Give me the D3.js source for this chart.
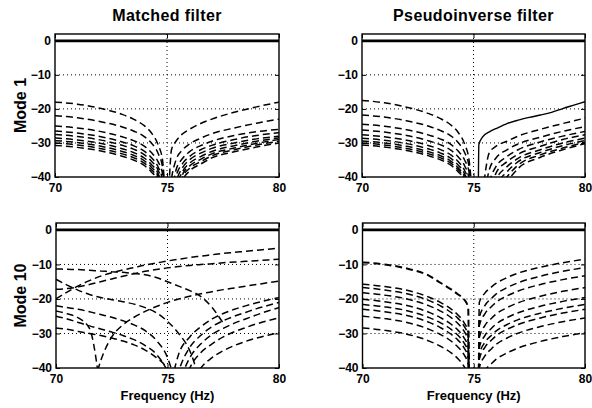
<!DOCTYPE html>
<html><head><meta charset="utf-8">
<script src="https://cdn.jsdelivr.net/npm/d3@7"></script>
<style>
body{margin:0;background:#fff}
text{font-family:"Liberation Sans",Arial,Helvetica,sans-serif;font-weight:bold;fill:#000}
</style>
</head><body>
<svg id="c" width="592" height="408"></svg>
<script>
// ---------------- data ----------------
const columnTitles = ["Matched filter", "Pseudoinverse filter"];
const rowLabels = ["Mode 1", "Mode 10"];
const xLabel = "Frequency (Hz)";
const xTicks = [70, 75, 80];
const yTicks = [0, -10, -20, -30, -40];
const xDomain = [70, 80];
const yDomain = [-40, 2];

// reference (solid) level, dB
const zeroFreq = [70, 80];
const zeroLevel = [0, 0];

// Mode 1 frequency grid (Hz)
const freqMode1 = [70, 71, 72, 73, 73.5, 74, 74.3, 74.6, 74.8, 75, 75.2, 75.4, 75.7, 76, 76.5, 77, 78, 79, 80];

// Matched filter, mode 1 (dB, dashed)
const matchedMode1 = [
  [-18, -18.6, -19.8, -21.6, -23, -25, -27, -30.5, -35, -50, -32, -29.5, -27.3, -26, -24.3, -23, -21, -19.4, -18],
  [-22, -22.6, -23.7, -25.3, -26.5, -28.2, -30, -33, -37, -52, -40.5, -35, -32, -30.3, -28.6, -27.3, -25.6, -24.2, -23],
  [-25, -25.6, -26.6, -28.2, -29.3, -31, -32.8, -35.5, -39, -54, -46, -38, -34.5, -32.6, -30.8, -29.5, -27.8, -26.7, -26],
  [-26.5, -27.1, -28.1, -29.7, -30.8, -32.5, -34.3, -37, -41, -55, -50, -40, -36, -34, -32, -30.7, -29, -27.8, -27],
  [-27.5, -28.1, -29.1, -30.7, -31.8, -33.5, -35.3, -38, -42, -56, -52, -42, -37.2, -35, -33, -31.6, -30, -28.8, -28],
  [-28.5, -29.1, -30.1, -31.7, -32.8, -34.5, -36.3, -39, -43, -57, -53, -44, -38.3, -36, -34, -32.5, -30.8, -29.5, -28.5],
  [-29.3, -29.9, -30.9, -32.5, -33.6, -35.3, -37.1, -39.8, -44, -58, -54, -46, -39.2, -36.8, -34.8, -33.2, -31.5, -30.1, -29],
  [-30, -30.6, -31.6, -33.2, -34.3, -36, -37.8, -40.5, -45, -58, -55, -48, -40, -37.5, -35.5, -33.8, -32, -30.6, -29.5],
  [-30.7, -31.3, -32.3, -33.9, -35, -36.7, -38.5, -41.2, -46, -59, -56, -50, -41, -38.3, -36.2, -34.4, -32.6, -31.2, -30]
];

// Pseudoinverse filter, mode 1 (dB, dashed)
const pinvMode1 = [
  [-17.5, -18.2, -19.5, -21.4, -22.8, -24.8, -26.8, -30.3, -35, -50, null, null, null, null, null, null, null, null, null],
  [-21.8, -22.4, -23.5, -25.1, -26.3, -28, -29.8, -32.8, -36.8, -55, -55, -45, -33, -31, -29.5, -28, -26, -24.3, -22.7],
  [-24.5, -25.1, -26.1, -27.7, -28.8, -30.5, -32.3, -35, -38.5, -56, -56, -50, -38, -34.5, -32, -30.3, -28.3, -26.6, -25.2],
  [-26.2, -26.8, -27.8, -29.4, -30.5, -32.2, -34, -36.7, -40.5, -57, -57, -55, -42, -37, -34, -32, -29.7, -28, -26.6],
  [-27.6, -28.2, -29.2, -30.8, -31.9, -33.6, -35.4, -38.1, -42, -58, -58, -57, -46, -39, -35.5, -33.3, -31, -29, -27.6],
  [-28.6, -29.2, -30.2, -31.8, -32.9, -34.6, -36.4, -39.1, -43, -58, -58, -58, -50, -41, -37, -34.5, -32, -30, -28.6],
  [-29.4, -30, -31, -32.6, -33.7, -35.4, -37.2, -39.9, -44, -59, -59, -59, -53, -43, -38.5, -35.5, -32.8, -30.8, -29.3],
  [-30, -30.6, -31.6, -33.2, -34.3, -36, -37.8, -40.5, -45, -59, -59, -59, -55, -45, -40, -36.5, -33.5, -31.5, -29.8],
  [-30.6, -31.2, -32.2, -33.8, -34.9, -36.6, -38.4, -41.1, -46, -60, -60, -60, -57, -47, -41.5, -37.5, -34.2, -32, -30.2]
];

// Pseudoinverse filter, mode 1 (solid branch)
const pinvSolidFreq = [75.22, 75.24, 75.4, 75.75, 76, 76.5, 77, 77.5, 78, 78.5, 79, 79.5, 80];
const pinvSolidMode1 = [-40.5, -30.5, -28.3, -26.6, -25.8, -24.3, -23.3, -22.5, -21.8, -21, -19.9, -18.9, -17.9];

// Mode 10 grid for matched filter (Hz)
const freqMatched10 = [70, 70.5, 71, 71.5, 72, 72.5, 73, 73.5, 74, 74.5, 75, 75.5, 76, 76.5, 77, 77.5, 78, 78.5, 79, 79.5, 80];

// Matched filter, mode 10 (dB, dashed)
const matchedMode10 = [
  [-11.3, -11.4, -11.5, -11.7, -11.9, -12.1, -12.3, -12.6, -13, -13.8, -15, -16.3, -17.6, -19.3, -22.5, -27, null, null, null, null, null],
  [-20, -18, -16.2, -14.7, -13.4, -12.4, -11.6, -10.9, -10.2, -9.6, -9, -8.5, -8, -7.6, -7.2, -6.8, -6.5, -6.2, -5.9, -5.6, -5.3],
  [-17.2, -17, -16.5, -15.8, -15, -14.2, -13.4, -12.7, -12, -11.5, -11, -10.6, -10.3, -10, -9.8, -9.5, -9.3, -9.1, -8.9, -8.7, -8.5],
  [-14.3, -16, -17.5, -18.7, -19.6, -20.2, -20.8, -21.5, -22.5, -24, -26.5, -30, -35, -45, null, null, null, null, null, null, null],
  [null, null, null, -50, -38, -31, -27.5, -25.3, -23.6, -22.2, -21, -20, -19.2, -18.5, -17.9, -17.3, -16.8, -16.3, -15.8, -15.3, -14.8],
  [-23.5, -24.3, -25.5, -28.5, -47, null, null, null, null, null, null, null, null, null, null, null, null, null, null, null, null],
  [-22, -22.5, -23, -23.7, -24.5, -25.3, -26.3, -27.5, -29.2, -32, -37, -48, null, null, null, null, null, null, null, null, null],
  [-25, -25.8, -26.8, -27.8, -28.7, -29.6, -30.6, -31.8, -33.5, -36, -41, -50, null, null, null, null, null, null, null, null, null],
  [-28.4, -28.8, -29.4, -30, -30.6, -31.3, -32.2, -33.3, -34.8, -37, -40.5, -50, null, null, null, null, null, null, null, null, null],
  [null, null, null, null, null, null, null, null, null, null, -50, -36, -31, -28, -25.8, -24.2, -23, -22, -21.1, -20.3, -19.6],
  [null, null, null, null, null, null, null, null, null, null, -55, -41, -34, -30.5, -28, -26.3, -25, -23.9, -22.8, -21.9, -21],
  [null, null, null, null, null, null, null, null, null, null, -58, -45, -37, -33, -30.3, -28.5, -27, -25.8, -24.6, -23.5, -22.5],
  [null, null, null, null, null, null, null, null, null, null, null, -50, -40, -35.5, -33, -31, -29.5, -28.3, -27.2, -26.3, -25.5],
  [null, null, null, null, null, null, null, null, null, null, null, null, -46, -40, -37, -35, -33.5, -32.3, -31.3, -30.5, -29.8]
];

// Mode 10 grid for pseudoinverse filter (Hz)
const freqPinv10 = [70, 71, 72, 73, 73.5, 74, 74.3, 74.55, 74.75, 74.8, 75.2, 75.25, 75.5, 75.8, 76, 76.5, 77, 78, 79, 80];

// Pseudoinverse filter, mode 10 (dB, dashed)
const pinvMode10 = [
  [-9.4, -10, -11.2, -13.3, -15.3, -17.3, -18.7, -20, -22.5, -60, null, null, null, null, null, null, null, null, null, null],
  [-15.7, -16.4, -17.5, -19.5, -21, -23, -24.7, -26.7, -29.7, -60, null, null, null, null, null, null, null, null, null, null],
  [-16.7, -17.4, -18.5, -20.5, -22, -24, -25.7, -27.7, -30.7, -60, null, null, null, null, null, null, null, null, null, null],
  [-18.2, -18.9, -20, -22, -23.5, -25.5, -27.2, -29.2, -32.2, -60, null, null, null, null, null, null, null, null, null, null],
  [-20.1, -20.8, -21.9, -23.9, -25.4, -27.4, -29.1, -31.1, -34.1, -60, null, null, null, null, null, null, null, null, null, null],
  [-21.6, -22.3, -23.4, -25.4, -26.9, -28.9, -30.6, -32.6, -35.6, -60, null, null, null, null, null, null, null, null, null, null],
  [-23, -23.7, -24.8, -26.8, -28.3, -30.3, -32, -34, -37, -60, null, null, null, null, null, null, null, null, null, null],
  [-25, -25.7, -26.8, -28.8, -30.3, -32.3, -34, -36, -39, -60, null, null, null, null, null, null, null, null, null, null],
  [-28.4, -29.1, -30.2, -32.2, -33.7, -35.7, -37.4, -39.4, -42.4, -60, null, null, null, null, null, null, null, null, null, null],
  [null, null, null, null, null, null, null, null, null, null, -60, -21, -18.3, -16.5, -15.5, -13.8, -12.5, -10.8, -9.5, -8.5],
  [null, null, null, null, null, null, null, null, null, null, -60, -25.4, -21.9, -19.8, -18.6, -16.7, -15.3, -13.4, -12, -10.9],
  [null, null, null, null, null, null, null, null, null, null, -60, -27.8, -24.3, -22.2, -21, -19.1, -17.7, -15.8, -14.4, -13.3],
  [null, null, null, null, null, null, null, null, null, null, -60, -31.2, -27.7, -25.6, -24.4, -22.5, -21.1, -19.2, -17.8, -16.7],
  [null, null, null, null, null, null, null, null, null, null, -60, -34.1, -30.6, -28.5, -27.3, -25.4, -24, -22.1, -20.7, -19.6],
  [null, null, null, null, null, null, null, null, null, null, -60, -36.1, -32.6, -30.5, -29.3, -27.4, -26, -24.1, -22.7, -21.6],
  [null, null, null, null, null, null, null, null, null, null, -60, -37.5, -34, -31.9, -30.7, -28.8, -27.4, -25.5, -24.1, -23],
  [null, null, null, null, null, null, null, null, null, null, -60, -40, -36.5, -34.4, -33.2, -31.3, -29.9, -28, -26.6, -25.5],
  [null, null, null, null, null, null, null, null, null, null, -60, -44.3, -40.8, -38.7, -37.5, -35.6, -34.2, -32.3, -30.9, -29.8]
];

// ---------------- layout ----------------
const panels = [
  {row: 0, col: 0, box: [55, 279, 34, 177], freq: freqMode1, dashed: matchedMode1, solid: []},
  {row: 0, col: 1, box: [362, 585, 34, 177], freq: freqMode1, dashed: pinvMode1, solid: [{f: pinvSolidFreq, v: pinvSolidMode1}]},
  {row: 1, col: 0, box: [56, 279, 223, 368], freq: freqMatched10, dashed: matchedMode10, solid: []},
  {row: 1, col: 1, box: [362.5, 585, 223, 368], freq: freqPinv10, dashed: pinvMode10, solid: [], heavyFirst: true}
];

const svg = d3.select("#c");
const fmt = d => d === 0 ? "0" : "\u2212" + Math.abs(d);

panels.forEach((p, i) => {
  const [x0, x1, y0, y1] = p.box;
  const x = d3.scaleLinear().domain(xDomain).range([x0, x1]);
  const y = d3.scaleLinear().domain(yDomain).range([y1, y0]);
  const g = svg.append("g");
  const clipId = "clip" + i;
  svg.append("clipPath").attr("id", clipId).append("rect")
    .attr("x", x0).attr("y", y0).attr("width", x1 - x0).attr("height", y1 - y0);
  const plot = g.append("g").attr("clip-path", `url(#${clipId})`);

  // dotted grid
  xTicks.filter(t => t > xDomain[0] && t < xDomain[1]).forEach(t => {
    plot.append("line").attr("x1", x(t)).attr("x2", x(t)).attr("y1", y0).attr("y2", y1)
      .attr("stroke", "#000").attr("stroke-width", 1).attr("stroke-dasharray", "1,3");
  });
  yTicks.filter(t => t > yDomain[0] && t < 0).forEach(t => {
    plot.append("line").attr("x1", x0).attr("x2", x1).attr("y1", y(t)).attr("y2", y(t))
      .attr("stroke", "#000").attr("stroke-width", 1).attr("stroke-dasharray", "1,3");
  });

  const line = d3.line()
    .defined(d => d[1] !== null)
    .x(d => x(d[0])).y(d => y(d[1]))
    .curve(d3.curveMonotoneX);

  // zero reference line
  plot.append("path").datum(zeroFreq.map((f, k) => [f, zeroLevel[k]]))
    .attr("d", line).attr("fill", "none").attr("stroke", "#000").attr("stroke-width", 2.8);

  // dashed responses
  p.dashed.forEach((vals, k) => {
    plot.append("path").datum(p.freq.map((f, j) => [f, vals[j]]))
      .attr("d", line).attr("fill", "none").attr("stroke", "#000")
      .attr("stroke-width", (p.heavyFirst && k === 0) ? 2 : 1.5)
      .attr("stroke-dasharray", "7,4");
  });
  // solid responses
  p.solid.forEach(s => {
    plot.append("path").datum(s.f.map((f, j) => [f, s.v[j]]))
      .attr("d", line).attr("fill", "none").attr("stroke", "#000").attr("stroke-width", 1.4);
  });

  // axes (inward ticks)
  const ax = g.append("g").attr("transform", `translate(${x0},0)`)
    .call(d3.axisLeft(y).tickValues(yTicks).tickSize(-4).tickPadding(4).tickFormat(fmt));
  ax.select(".domain").remove();
  ax.selectAll("text").attr("font-size", 12).attr("font-family", null);
  const axR = g.append("g").attr("transform", `translate(${x1},0)`)
    .call(d3.axisRight(y).tickValues(yTicks).tickSize(-4).tickFormat(""));
  axR.select(".domain").remove();
  const axB = g.append("g").attr("transform", `translate(0,${y1})`)
    .call(d3.axisBottom(x).tickValues(xTicks).tickSize(-4).tickPadding(6).tickFormat(d3.format("d")));
  axB.select(".domain").remove();
  axB.selectAll("text").attr("font-size", 12).attr("font-family", null);
  const axT = g.append("g").attr("transform", `translate(0,${y0})`)
    .call(d3.axisTop(x).tickValues(xTicks).tickSize(-4).tickFormat(""));
  axT.select(".domain").remove();
  g.selectAll(".tick line").attr("stroke", "#000").attr("stroke-width", 1);

  // box
  g.append("rect").attr("x", x0).attr("y", y0).attr("width", x1 - x0).attr("height", y1 - y0)
    .attr("fill", "none").attr("stroke", "#000").attr("stroke-width", 1.4);

  // titles & labels
  const cx = (x0 + x1) / 2;
  if (p.row === 0) {
    svg.append("text").attr("x", cx).attr("y", 21).attr("text-anchor", "middle")
      .attr("font-size", 16).attr("letter-spacing", 0.4).text(columnTitles[p.col]);
  }
  if (p.row === 1) {
    svg.append("text").attr("x", cx).attr("y", 400).attr("text-anchor", "middle")
      .attr("font-size", 13).text(xLabel);
  }
  if (p.col === 0) {
    const cy = (y0 + y1) / 2;
    svg.append("text").attr("transform", `translate(26,${cy}) rotate(-90)`)
      .attr("text-anchor", "middle").attr("font-size", 16).text(rowLabels[p.row]);
  }
});
</script>
</body></html>
